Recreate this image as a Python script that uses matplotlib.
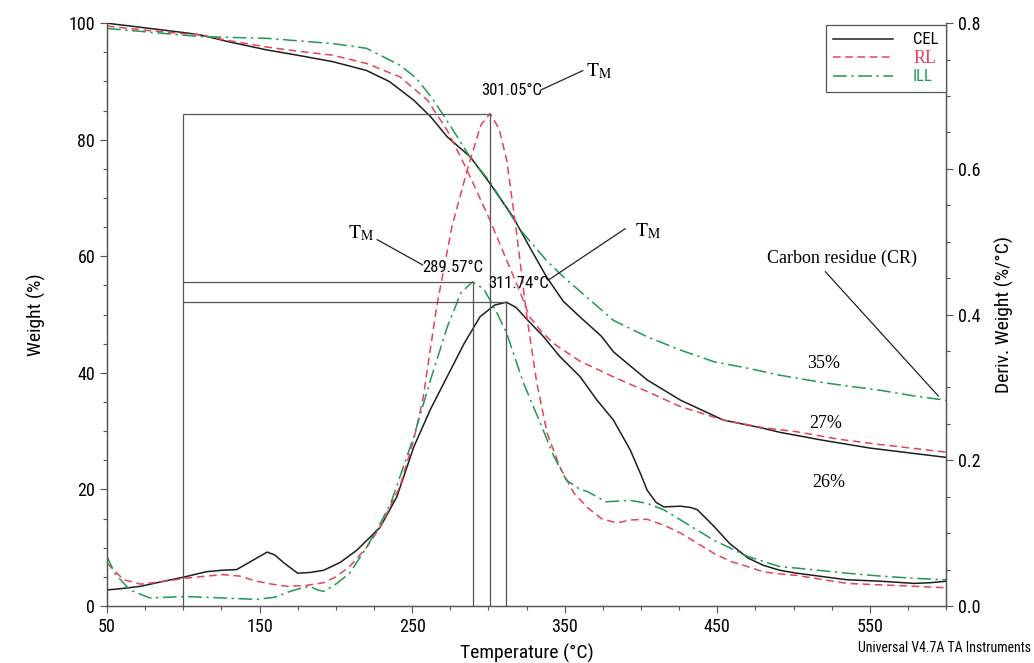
import matplotlib
matplotlib.use("Agg")
import matplotlib.pyplot as plt
from matplotlib import font_manager as fm
from matplotlib.ticker import MultipleLocator, FormatStrFormatter
from matplotlib.lines import Line2D

# pick a narrow sans font if one is installed
_pref = ['LiberationSansNarrow-Regular', 'RobotoCondensed-Regular', 'Roboto_Condensed-Regular',
         'DejaVuSansCondensed.ttf', 'OpenSans_Condensed-Regular', 'OpenSansCondensed']
_files = [f.fname for f in fm.fontManager.ttflist]
NARROW = None
for p in _pref:
    hits = [f for f in _files if p in f]
    if hits:
        NARROW = hits[0]
        break


def sans(size):
    if NARROW:
        return fm.FontProperties(fname=NARROW, size=size)
    return fm.FontProperties(family='Liberation Sans', size=size)


SERIF = 'Liberation Serif'
plt.rcParams['mathtext.fontset'] = 'stix'

# ---------------- data ----------------
cel_tg_T = [50, 75, 100, 111, 130, 155, 175, 198, 220, 235, 251, 262, 273, 288, 301, 316, 327, 338, 349, 360,
            374, 382, 404, 426, 454, 480, 491, 520, 550, 575, 600]
cel_tg_W = [100, 99.2, 98.4, 98.0, 96.8, 95.4, 94.5, 93.4, 91.9, 90.0, 86.8, 84.0, 80.5, 77.1, 72.5, 66.8, 61.6,
            56.5, 52.3, 49.6, 46.3, 43.6, 38.8, 35.3, 31.9, 30.5, 29.8, 28.4, 27.1, 26.3, 25.5]

rl_tg_T = [50, 75, 100, 111, 130, 155, 175, 198, 220, 242, 260, 273, 286, 301, 312, 321, 327, 335, 343, 360,
           374, 382, 404, 426, 454, 480, 502, 530, 557, 580, 600]
rl_tg_W = [99.5, 98.8, 98.2, 98.0, 97.0, 95.9, 95.2, 94.5, 93.1, 90.8, 86.8, 81.6, 74.8, 66.2, 59.3, 53.7, 49.6,
           47.0, 45.0, 42.0, 40.3, 39.3, 36.8, 34.2, 31.9, 30.6, 29.9, 28.6, 27.7, 27.0, 26.4]

ill_tg_T = [50, 76, 111, 155, 198, 220, 242, 253, 264, 276, 288, 301, 321, 338, 349, 360, 382, 404, 426, 448,
            470, 491, 520, 557, 580, 600]
ill_tg_W = [99.1, 98.5, 97.7, 97.4, 96.5, 95.7, 92.8, 90.5, 86.8, 82.0, 77.0, 72.8, 64.5, 59.3, 56.5, 54.0,
            49.0, 46.2, 43.9, 41.9, 40.8, 39.6, 38.3, 37.0, 36.0, 35.3]

cel_dtg_T = [50, 60, 72, 85, 101, 115, 125, 135, 145, 155, 160, 166, 175, 183, 192, 203, 214, 229, 240, 251,
             262, 273, 284, 294.5, 304, 311.74, 318, 325, 336, 347, 360, 371, 382, 393, 400, 404, 410, 415, 426,
             433, 437, 448, 458, 470, 480, 491, 502, 535, 557, 579, 590, 600]
cel_dtg_D = [0.022, 0.024, 0.027, 0.033, 0.040, 0.047, 0.049, 0.050, 0.062, 0.074, 0.070, 0.059, 0.045, 0.046,
             0.049, 0.060, 0.077, 0.108, 0.150, 0.218, 0.270, 0.315, 0.360, 0.397, 0.413, 0.417, 0.410, 0.394,
             0.370, 0.342, 0.315, 0.283, 0.255, 0.214, 0.180, 0.159, 0.142, 0.136, 0.137, 0.135, 0.132, 0.109,
             0.086, 0.066, 0.056, 0.049, 0.045, 0.036, 0.034, 0.031, 0.032, 0.034]

rl_dtg_T = [50, 55, 61, 72, 85, 101, 115, 126, 137, 148, 158, 168, 180, 192, 200, 209, 220, 229, 242, 251, 257,
            266, 276, 286, 295, 301.05, 307, 312, 318.6, 325, 331.7, 338.5, 347, 356, 365, 374, 384, 393, 404,
            415, 426, 437, 448, 459, 470, 480, 491, 502, 535, 557, 580, 600]
rl_dtg_D = [0.059, 0.048, 0.036, 0.030, 0.033, 0.038, 0.041, 0.043, 0.041, 0.034, 0.030, 0.027, 0.028, 0.032,
            0.040, 0.054, 0.080, 0.108, 0.164, 0.228, 0.283, 0.410, 0.520, 0.598, 0.660, 0.676, 0.655, 0.612,
            0.510, 0.400, 0.306, 0.237, 0.190, 0.155, 0.135, 0.120, 0.114, 0.118, 0.119, 0.111, 0.100, 0.086,
            0.072, 0.061, 0.054, 0.047, 0.044, 0.042, 0.031, 0.029, 0.027, 0.025]

ill_dtg_T = [50, 55, 65, 78, 101, 126, 148, 160, 170, 178, 183, 188, 192, 200, 209, 220, 229, 236, 251, 262, 273,
             282, 289.57, 297, 305, 312, 323, 334, 343, 351, 360, 365, 377, 393, 404, 415, 426, 437, 448, 459,
             470, 491, 502, 535, 557, 579, 600]
ill_dtg_D = [0.068, 0.045, 0.022, 0.011, 0.013, 0.011, 0.009, 0.012, 0.020, 0.025, 0.027, 0.022, 0.020, 0.030,
             0.045, 0.080, 0.113, 0.141, 0.232, 0.310, 0.383, 0.430, 0.445, 0.435, 0.405, 0.374, 0.306, 0.251,
             0.205, 0.173, 0.160, 0.157, 0.143, 0.145, 0.141, 0.132, 0.118, 0.104, 0.090, 0.079, 0.068, 0.054,
             0.052, 0.045, 0.041, 0.038, 0.036]

series_names = ['CEL', 'RL', 'ILL']
peak_T = [311.74, 301.05, 289.57]
peak_D = [0.417, 0.676, 0.445]
ref_T = 100
residue_labels = ['26%', '27%', '35%']

# ---------------- styles ----------------
C_BLACK = '#1e1e1e'
C_RED = '#e8425a'
C_GREEN = '#1f9a4e'
C_REF = '#555555'
LW = 1.1
red_dash = (5, 3)
green_dash = (9, 3, 1.5, 3)

fig = plt.figure(figsize=(10.34, 6.63), dpi=100)
ax = fig.add_axes([0.1035, 0.086, 0.8115, 0.879])
ax2 = ax.twinx()

# TG curves
ax.plot(cel_tg_T, cel_tg_W, color=C_BLACK, lw=LW)
ax.plot(rl_tg_T, rl_tg_W, color=C_RED, lw=LW, dashes=red_dash)
ax.plot(ill_tg_T, ill_tg_W, color=C_GREEN, lw=LW, dashes=green_dash)

# DTG curves
ax2.plot(cel_dtg_T, cel_dtg_D, color=C_BLACK, lw=LW)
ax2.plot(rl_dtg_T, rl_dtg_D, color=C_RED, lw=LW, dashes=red_dash)
ax2.plot(ill_dtg_T, ill_dtg_D, color=C_GREEN, lw=LW, dashes=green_dash)

# reference lines
ax2.vlines(ref_T, 0, max(peak_D), color=C_REF, lw=0.9)
ax2.hlines(peak_D, ref_T, peak_T, color=C_REF, lw=0.9)
ax2.vlines(peak_T, 0, peak_D, color=C_REF, lw=0.9)

ax.set_xlim(50, 600)
ax.set_ylim(0, 100)
ax2.set_ylim(0, 0.8)

for a in (ax, ax2):
    a.spines['top'].set_visible(False)
    for s in a.spines.values():
        s.set_color('#555555')
        s.set_linewidth(0.9)
ax.set_xticks([50, 150, 250, 350, 450, 550])
ax.xaxis.set_minor_locator(MultipleLocator(25))
ax.yaxis.set_major_locator(MultipleLocator(20))
ax.yaxis.set_minor_locator(MultipleLocator(5))
ax2.yaxis.set_major_locator(MultipleLocator(0.2))
ax2.yaxis.set_minor_locator(MultipleLocator(0.05))
ax2.yaxis.set_major_formatter(FormatStrFormatter('%.1f'))
for a in (ax, ax2):
    a.tick_params(which='major', direction='out', length=5, width=0.8, color='#555555', labelsize=13)
    a.tick_params(which='minor', direction='out', length=3, width=0.8, color='#555555')
    for lab in a.get_xticklabels() + a.get_yticklabels():
        lab.set_fontproperties(sans(13))

ax.set_xlabel('Temperature (°C)', fontproperties=sans(14), labelpad=6)
ax.set_ylabel('Weight (%)', fontproperties=sans(14), labelpad=16)
ax2.set_ylabel('Deriv. Weight (%/°C)', fontproperties=sans(14), labelpad=10)

# annotations
tm = r'$\mathrm{T_M}$'
ann_kw = dict(arrowprops=dict(arrowstyle='-', color='#222222', lw=0.9, shrinkA=0, shrinkB=0))
ax2.text(315, 0.708, f'{peak_T[1]:.2f}°C', ha='center', va='center', fontproperties=sans(12))
ax2.annotate('', xy=(334, 0.708), xytext=(362, 0.735), **ann_kw)
ax2.text(364, 0.734, tm, ha='left', va='center', fontsize=14)

ax2.text(276.5, 0.464, f'{peak_T[2]:.2f}°C', ha='center', va='center', fontproperties=sans(12))
ax2.annotate('', xy=(257, 0.468), xytext=(227, 0.503), **ann_kw)
ax2.text(225, 0.512, tm, ha='right', va='center', fontsize=14)

ax2.text(319.5, 0.443, f'{peak_T[0]:.2f}°C', ha='center', va='center', fontproperties=sans(12))
ax2.annotate('', xy=(339, 0.447), xytext=(389.7, 0.518), **ann_kw)
ax2.text(396, 0.515, tm, ha='left', va='center', fontsize=14)

ax2.text(532, 0.477, 'Carbon residue (CR)', ha='center', va='center', fontsize=13, family=SERIF)
ax2.annotate('', xy=(595, 0.288), xytext=(520.8, 0.459), **ann_kw)
ax2.text(520, 0.333, residue_labels[2], ha='center', va='center', fontsize=13, family=SERIF)
ax2.text(521, 0.251, residue_labels[1], ha='center', va='center', fontsize=13, family=SERIF)
ax2.text(523, 0.170, residue_labels[0], ha='center', va='center', fontsize=13, family=SERIF)

# legend
handles = [Line2D([], [], color=C_BLACK, lw=LW),
           Line2D([], [], color=C_RED, lw=LW, dashes=red_dash),
           Line2D([], [], color=C_GREEN, lw=LW, dashes=green_dash)]
leg = ax2.legend(handles, series_names, loc='upper right', bbox_to_anchor=(1.0, 0.997),
                 borderaxespad=0, fancybox=False, framealpha=1, edgecolor='#555555',
                 handlelength=3.6, handletextpad=1.2, labelspacing=0.15, borderpad=0.45,
                 prop=sans(12))
leg.get_frame().set_linewidth(0.9)
txts = leg.get_texts()
txts[1].set_fontproperties(fm.FontProperties(family=SERIF, size=13))
txts[1].set_color(C_RED)
txts[2].set_color(C_GREEN)

fig.text(0.997, 0.022, 'Universal V4.7A TA Instruments', ha='right', va='center', fontproperties=sans(10))

fig.savefig('out.png', dpi=100)
